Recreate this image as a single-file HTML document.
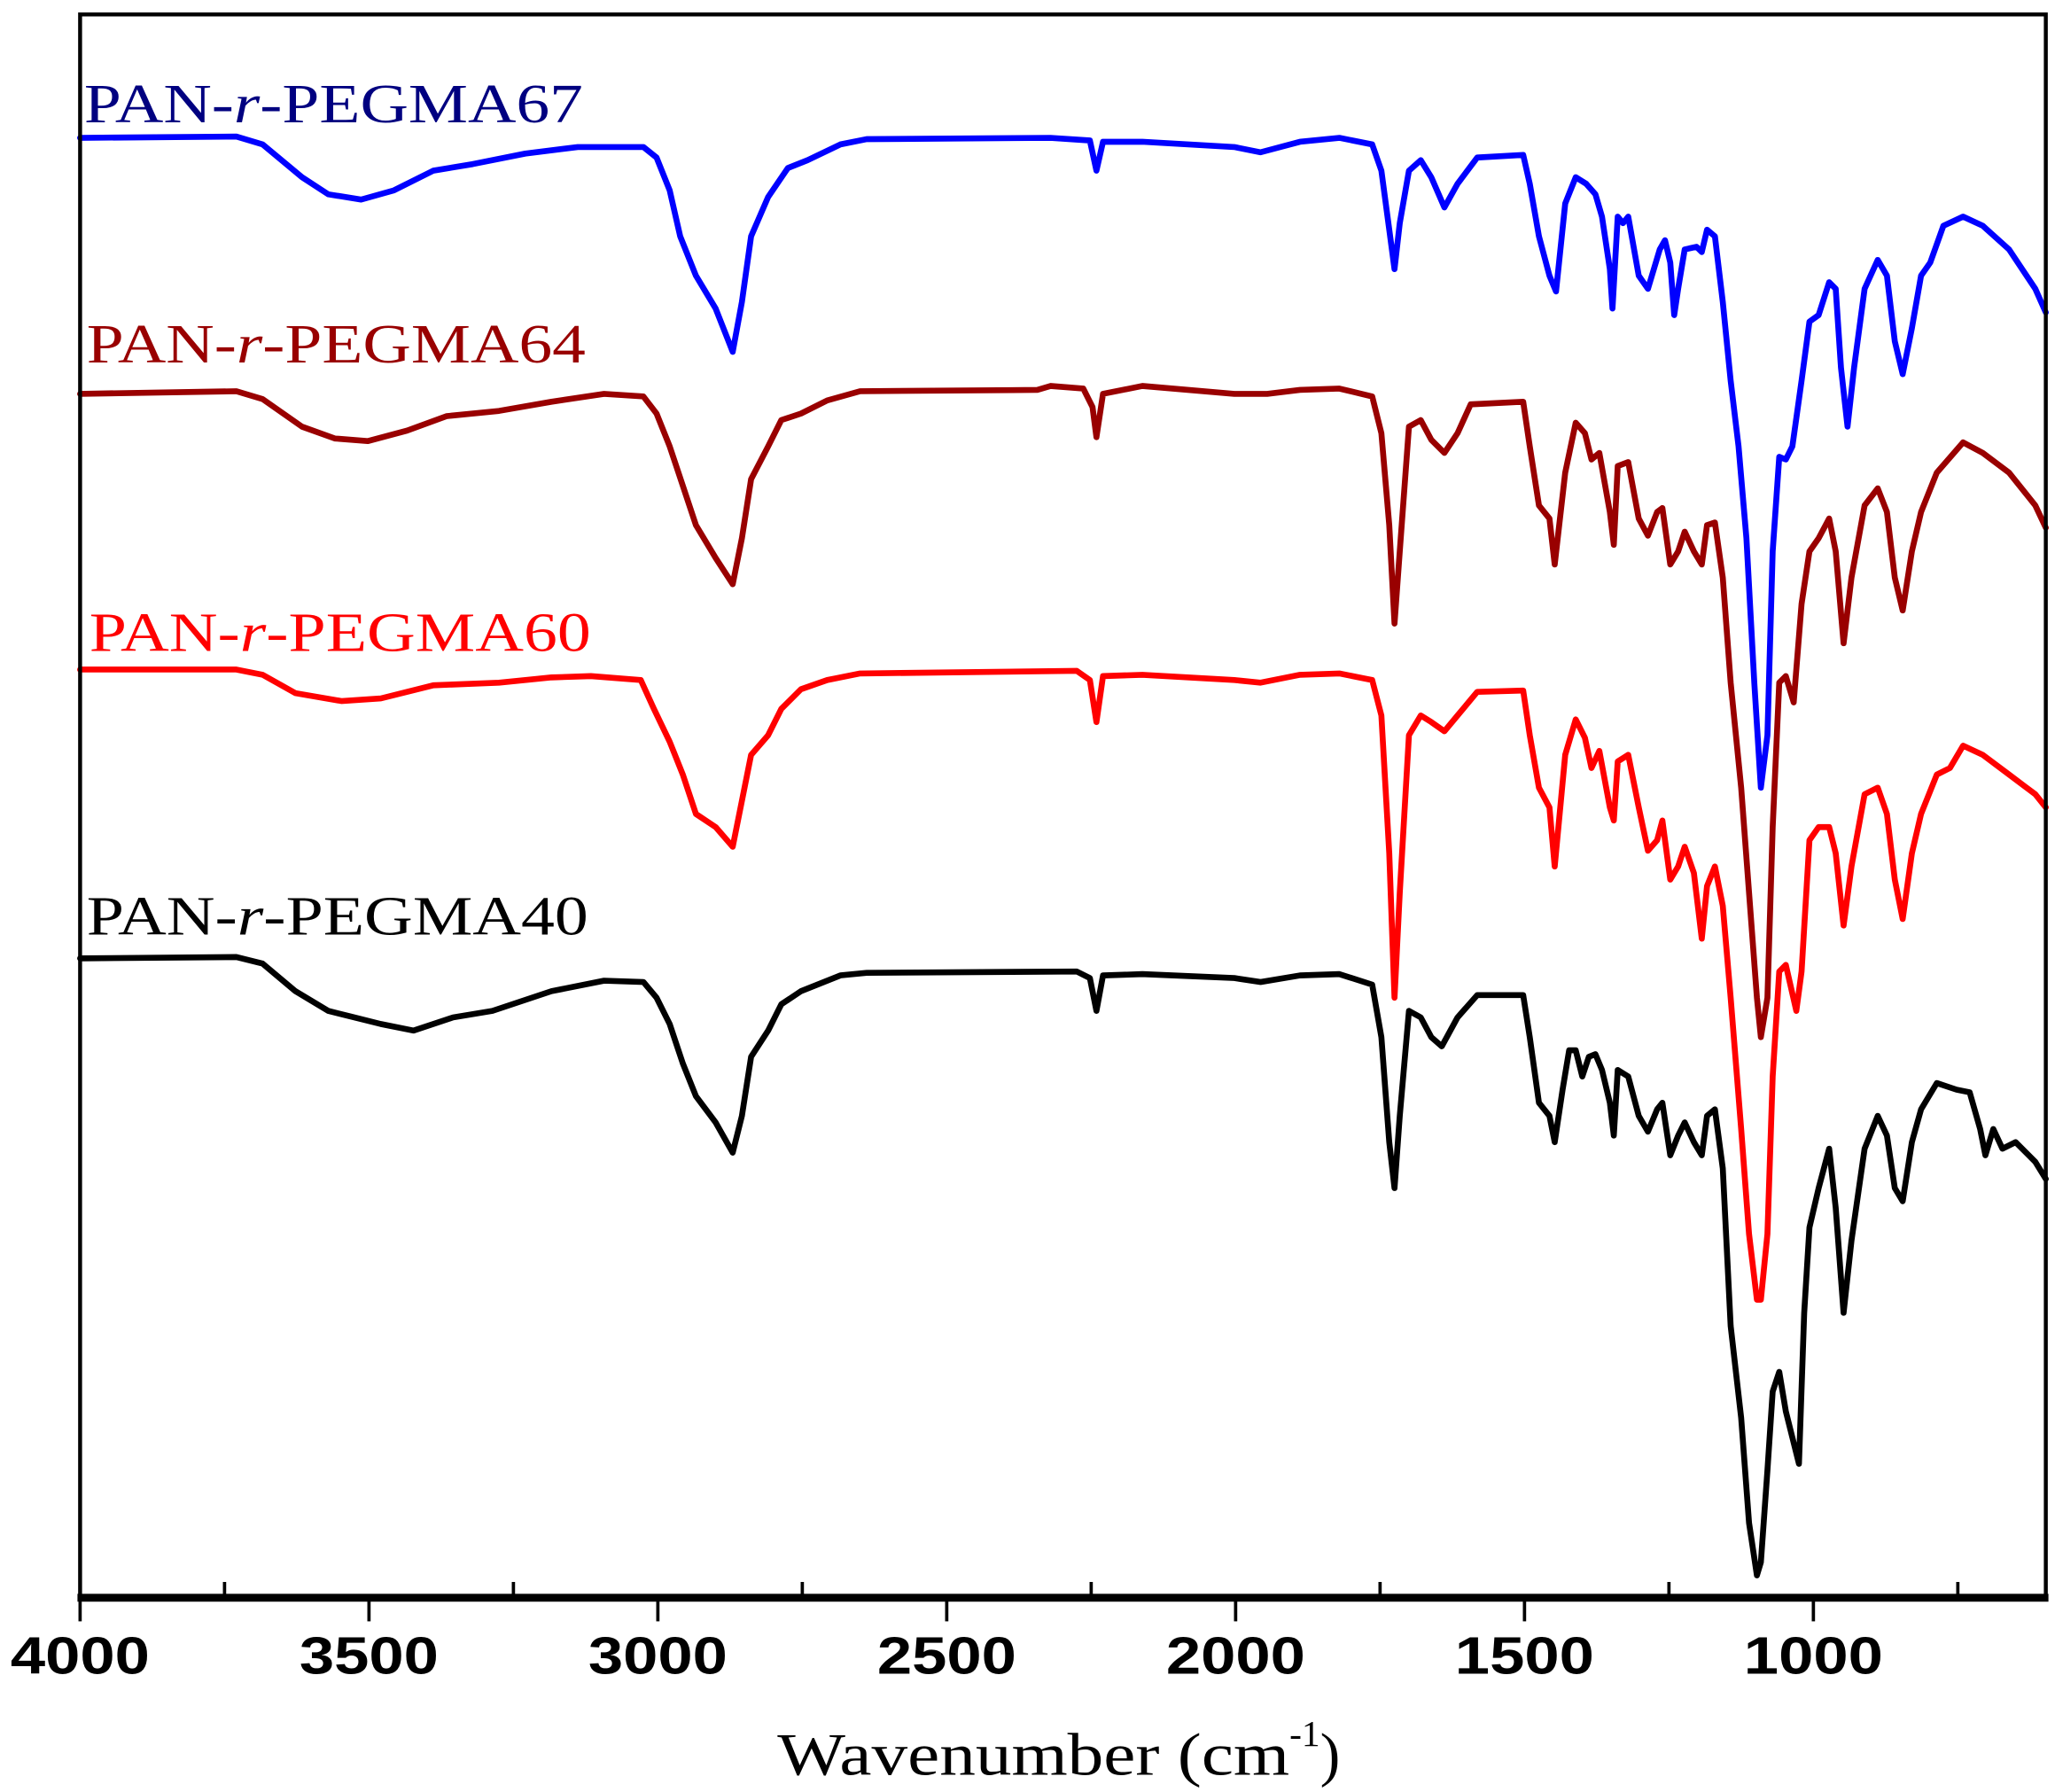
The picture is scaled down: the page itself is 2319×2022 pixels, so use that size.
<!DOCTYPE html>
<html><head><meta charset="utf-8"><style>html,body{margin:0;padding:0;background:#fff}svg{display:block}</style></head>
<body>
<svg width="2319" height="2022" viewBox="0 0 1565 1365" preserveAspectRatio="none" xmlns="http://www.w3.org/2000/svg">
<rect x="0" y="0" width="1565" height="1365" fill="#fff"/>
<g fill="none" stroke-width="4.5" stroke-linejoin="round" stroke-linecap="round">
<polyline stroke="#0000ff" points="61,105 180,104 200,110 230,135 250,148 275,152 300,145 330,130 360,125 400,117 440,112 490,112 500,120 510,145 518,180 530,210 545,235 558,268 565,230 572,180 585,150 600,128 615,122 640,110 660,106 800,105 830,107 835,130 840,108 870,108 940,112 960,116 990,108 1020,105 1045,110 1052,130 1058,175 1062,205 1066,170 1073,130 1082,122 1090,135 1100,158 1110,140 1125,120 1160,118 1165,140 1172,180 1180,210 1185,222 1192,155 1200,135 1208,140 1215,148 1220,165 1226,205 1228,235 1232,165 1236,170 1240,165 1248,210 1255,220 1264,190 1268,183 1272,200 1275,240 1278,220 1283,190 1292,188 1296,192 1300,175 1306,180 1312,230 1318,290 1324,340 1330,410 1336,520 1341,600 1346,560 1350,420 1355,348 1360,350 1365,340 1372,290 1378,245 1385,240 1393,215 1398,220 1402,280 1407,325 1412,280 1420,220 1430,198 1437,210 1443,260 1449,285 1456,250 1463,210 1470,200 1480,172 1495,165 1510,172 1530,190 1550,220 1558,238"/>
<polyline stroke="#990000" points="61,300 180,298 200,304 230,325 255,334 280,336 310,328 340,317 380,313 420,306 460,300 490,302 500,315 510,340 520,370 530,400 545,425 558,445 565,410 572,365 585,340 595,320 610,315 630,305 655,298 790,297 800,294 825,296 832,310 835,333 840,300 870,294 940,300 965,300 990,297 1020,296 1045,302 1052,330 1058,400 1062,475 1066,420 1073,325 1082,320 1090,335 1100,345 1110,330 1120,308 1160,306 1165,340 1172,385 1180,395 1184,430 1192,360 1200,322 1207,330 1212,350 1218,345 1226,390 1229,415 1232,355 1240,352 1248,395 1255,408 1262,390 1266,387 1272,430 1278,420 1283,405 1290,420 1296,430 1300,400 1306,398 1312,440 1318,520 1326,600 1332,680 1338,760 1341,790 1346,760 1350,630 1355,520 1360,515 1366,535 1372,460 1378,420 1385,410 1393,395 1398,420 1404,490 1410,440 1420,385 1430,372 1437,390 1443,440 1449,465 1456,420 1463,390 1475,360 1495,337 1510,345 1530,360 1550,385 1558,402"/>
<polyline stroke="#ff0000" points="61,510 180,510 200,514 225,528 260,534 290,532 330,522 380,520 420,516 450,515 488,518 498,540 510,565 520,590 530,620 545,630 558,645 565,610 572,575 585,560 595,540 610,525 630,518 655,513 820,511 830,518 835,550 840,515 870,514 940,518 960,520 990,514 1020,513 1045,518 1052,545 1058,650 1062,760 1066,680 1073,560 1082,545 1090,550 1100,557 1110,545 1125,527 1160,526 1165,560 1172,600 1180,615 1184,660 1192,575 1200,548 1207,562 1212,585 1218,572 1226,615 1229,625 1232,580 1240,575 1248,615 1255,648 1262,640 1266,625 1272,670 1278,660 1283,645 1290,665 1296,715 1300,675 1306,660 1312,690 1318,760 1326,860 1332,940 1338,990 1341,990 1346,940 1350,820 1355,740 1360,735 1368,770 1372,740 1378,640 1385,630 1393,630 1398,650 1404,705 1410,660 1420,605 1430,600 1437,620 1443,670 1449,700 1456,650 1463,620 1475,590 1485,585 1495,568 1510,575 1530,590 1550,605 1558,615"/>
<polyline stroke="#000000" points="61,730 180,729 200,734 225,755 250,770 290,780 315,785 345,775 375,770 420,755 460,747 490,748 500,760 510,780 520,810 530,835 545,855 558,878 565,850 572,805 585,785 595,765 610,755 640,743 660,741 820,740 830,745 835,770 840,743 870,742 940,745 960,748 990,743 1020,742 1045,750 1052,790 1058,870 1062,905 1066,850 1073,770 1082,775 1090,790 1098,797 1110,775 1125,758 1160,758 1165,790 1172,840 1180,850 1184,870 1190,830 1195,800 1200,800 1205,820 1210,805 1215,803 1220,815 1226,840 1229,865 1232,815 1240,820 1248,850 1255,862 1262,845 1266,840 1272,880 1278,865 1283,855 1290,870 1296,880 1300,850 1306,845 1312,890 1318,1010 1326,1080 1332,1160 1338,1200 1341,1190 1346,1120 1350,1060 1355,1045 1360,1075 1365,1095 1370,1115 1374,1000 1378,935 1385,905 1393,875 1398,920 1404,1000 1410,945 1420,875 1430,850 1437,865 1443,905 1449,915 1456,870 1463,845 1475,825 1490,830 1500,832 1508,860 1512,880 1518,860 1525,875 1535,870 1550,885 1558,898"/>
</g>
<rect x="61" y="11" width="1497" height="1206" fill="none" stroke="#000" stroke-width="3"/>
<line x1="59" y1="1217" x2="1560" y2="1217" stroke="#000" stroke-width="6"/>
<g stroke="#000" stroke-width="2.5">
<line x1="61" y1="1217" x2="61" y2="1235"/><line x1="281" y1="1217" x2="281" y2="1235"/><line x1="501" y1="1217" x2="501" y2="1235"/><line x1="721" y1="1217" x2="721" y2="1235"/><line x1="941" y1="1217" x2="941" y2="1235"/><line x1="1161" y1="1217" x2="1161" y2="1235"/><line x1="1381" y1="1217" x2="1381" y2="1235"/>
<line x1="171" y1="1217" x2="171" y2="1205"/><line x1="391" y1="1217" x2="391" y2="1205"/><line x1="611" y1="1217" x2="611" y2="1205"/><line x1="831" y1="1217" x2="831" y2="1205"/><line x1="1051" y1="1217" x2="1051" y2="1205"/><line x1="1271" y1="1217" x2="1271" y2="1205"/><line x1="1491" y1="1217" x2="1491" y2="1205"/>
</g>
<g font-family="Liberation Sans, sans-serif" font-weight="bold" font-size="40" text-anchor="middle" fill="#000">
<text x="61" y="1275" textLength="106" lengthAdjust="spacingAndGlyphs">4000</text>
<text x="281" y="1275" textLength="106" lengthAdjust="spacingAndGlyphs">3500</text>
<text x="501" y="1275" textLength="106" lengthAdjust="spacingAndGlyphs">3000</text>
<text x="721" y="1275" textLength="106" lengthAdjust="spacingAndGlyphs">2500</text>
<text x="941" y="1275" textLength="106" lengthAdjust="spacingAndGlyphs">2000</text>
<text x="1161" y="1275" textLength="106" lengthAdjust="spacingAndGlyphs">1500</text>
<text x="1381" y="1275" textLength="106" lengthAdjust="spacingAndGlyphs">1000</text>
</g>
<text x="592" y="1352" font-family="Liberation Serif, serif" font-size="46" fill="#000"><tspan textLength="390" lengthAdjust="spacingAndGlyphs">Wavenumber (cm</tspan><tspan dy="-22" font-size="28">-1</tspan><tspan dy="22">)</tspan></text>
<g font-family="Liberation Serif, serif" font-size="42">
<text x="64" y="93" fill="#000080" textLength="380" lengthAdjust="spacingAndGlyphs">PAN-<tspan font-style="italic">r</tspan>-PEGMA67</text>
<text x="66" y="276" fill="#990000" textLength="380" lengthAdjust="spacingAndGlyphs">PAN-<tspan font-style="italic">r</tspan>-PEGMA64</text>
<text x="68" y="496" fill="#ff0000" textLength="382" lengthAdjust="spacingAndGlyphs">PAN-<tspan font-style="italic">r</tspan>-PEGMA60</text>
<text x="66" y="712" fill="#000" textLength="382" lengthAdjust="spacingAndGlyphs">PAN-<tspan font-style="italic">r</tspan>-PEGMA40</text>
</g>
</svg>
</body></html>
